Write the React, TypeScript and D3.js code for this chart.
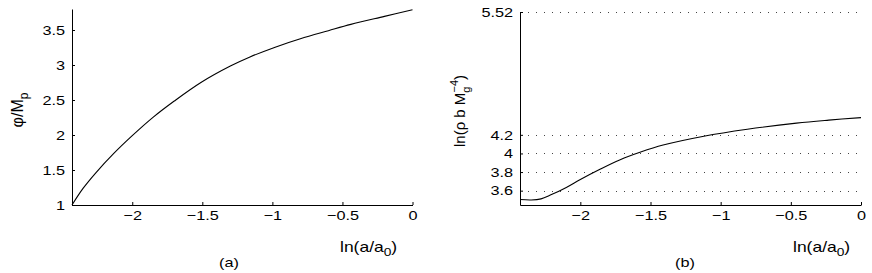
import React, { useEffect, useRef } from 'react';
import * as d3 from 'd3';

// panel (a): phi / M_p against ln(a/a0)
const lnA_a = [-2.43, -2.35, -2.26, -2.13, -2.0, -1.85, -1.7, -1.51, -1.3, -1.16, -0.98, -0.8, -0.6, -0.44, -0.2, 0];
const phi_a = [1.0, 1.24, 1.46, 1.74, 1.99, 2.255, 2.485, 2.75, 2.985, 3.115, 3.255, 3.375, 3.49, 3.58, 3.695, 3.79];

// panel (b): ln(rho b M_g^-4) against ln(a/a0)
const lnA_b = [-2.43, -2.35, -2.28, -2.21, -2.1, -2.0, -1.86, -1.72, -1.57, -1.41, -1.12, -0.81, -0.46, -0.23, 0];
const rho_b = [3.505, 3.5, 3.512, 3.555, 3.635, 3.72, 3.83, 3.93, 4.015, 4.09, 4.185, 4.26, 4.326, 4.358, 4.385];

const xTicks = [-2, -1.5, -1, -0.5, 0];
const yTicksA = [1, 1.5, 2, 2.5, 3, 3.5];
const yTicksB = [3.6, 3.8, 4, 4.2, 5.52];

const FONT = '"Liberation Sans", Arial, Helvetica, sans-serif';
const SX = 1.25; // the figure's text is a bit wider than plain Arial

export default function App() {
  const svgRef = useRef<SVGSVGElement>(null);

  useEffect(() => {
    const svg = d3.select(svgRef.current);
    svg.selectAll('*').remove();
    svg.style('font-family', FONT);

    function panel(opts: {
      xs: number[]; ys: number[]; xRange: [number, number]; yDomain: [number, number];
      yRange: [number, number]; yTicks: number[]; grid: boolean;
    }) {
      const x = d3.scaleLinear().domain([-2.43, 0]).range(opts.xRange);
      const y = d3.scaleLinear().domain(opts.yDomain).range(opts.yRange);
      const g = svg.append('g');

      if (opts.grid) {
        g.append('g')
          .selectAll('line')
          .data(opts.yTicks)
          .join('line')
          .attr('x1', opts.xRange[0])
          .attr('x2', opts.xRange[1])
          .attr('y1', d => Math.round(y(d)) + 0.5)
          .attr('y2', d => Math.round(y(d)) + 0.5)
          .attr('stroke', '#444')
          .attr('stroke-width', 1)
          .attr('stroke-dasharray', '1 7');
      }

      const xAxis = d3.axisBottom(x).tickValues(xTicks).tickSize(-3).tickSizeOuter(0).tickPadding(6)
        .tickFormat(d3.format('')) as any;
      const yAxis = d3.axisLeft(y).tickValues(opts.yTicks).tickSize(-3).tickSizeOuter(0).tickPadding(7)
        .tickFormat(d3.format('')) as any;

      const gx = g.append('g').attr('transform', `translate(0,${opts.yRange[0]})`).call(xAxis);
      const gy = g.append('g').attr('transform', `translate(${opts.xRange[0]},0)`).call(yAxis);
      [gx, gy].forEach(a => {
        a.selectAll('text').attr('font-size', 13).attr('font-family', FONT).attr('fill', '#000')
          .attr('transform', `scale(${SX},1)`);
        a.selectAll('line').attr('stroke', '#000');
        a.select('.domain').attr('stroke', '#000');
      });
      gy.selectAll('text').attr('x', -7 / SX);

      const line = d3.line<number>()
        .x((_, i) => x(opts.xs[i]))
        .y(d => y(d))
        .curve(d3.curveCatmullRom.alpha(0.5));

      g.append('path')
        .datum(opts.ys)
        .attr('d', line)
        .attr('fill', 'none')
        .attr('stroke', '#000')
        .attr('stroke-width', 1.1);
      return g;
    }

    const ga = panel({
      xs: lnA_a, ys: phi_a, xRange: [72, 412.5], yDomain: [1, 3.8], yRange: [205, 9], yTicks: yTicksA, grid: false,
    });
    const gb = panel({
      xs: lnA_b, ys: rho_b, xRange: [520, 861], yDomain: [3.446, 5.52], yRange: [205, 12], yTicks: yTicksB, grid: true,
    });

    // x labels
    const xlab = (g: any, x: number) => {
      const t = g.append('g').attr('transform', `translate(${x},252) scale(${SX},1)`)
        .append('text').attr('font-size', 14).attr('fill', '#000');
      t.append('tspan').text('ln(a/a');
      t.append('tspan').attr('font-size', 11).attr('dy', 4).text('0');
      t.append('tspan').attr('dy', -4).text(')');
    };
    xlab(ga, 340);
    xlab(gb, 793);

    ga.append('g').attr('transform', `translate(229,267) scale(${SX},1)`)
      .append('text').attr('text-anchor', 'middle').attr('font-size', 13).text('(a)');
    gb.append('g').attr('transform', `translate(685,267) scale(${SX},1)`)
      .append('text').attr('text-anchor', 'middle').attr('font-size', 13).text('(b)');

    // y labels
    const ya = ga.append('text')
      .attr('transform', 'translate(23,110) rotate(-90)')
      .attr('text-anchor', 'middle')
      .attr('font-size', 16);
    ya.append('tspan').text('φ/M');
    ya.append('tspan').attr('font-size', 12).attr('dy', 5).text('p');

    const yb = gb.append('text')
      .attr('transform', 'translate(465,111) rotate(-90)')
      .attr('text-anchor', 'middle')
      .attr('font-size', 15);
    yb.append('tspan').text('ln(ρ b M');
    yb.append('tspan').attr('font-size', 11).attr('dy', 5).text('g');
    yb.append('tspan').attr('font-size', 11).attr('dy', -12).attr('dx', -6).text('−4');
    yb.append('tspan').attr('dy', 7).text(')');
  }, []);

  return (
    <svg
      ref={svgRef}
      width={872}
      height={273}
      style={{ position: 'absolute', left: 0, top: 0, background: '#fff' }}
    />
  );
}
